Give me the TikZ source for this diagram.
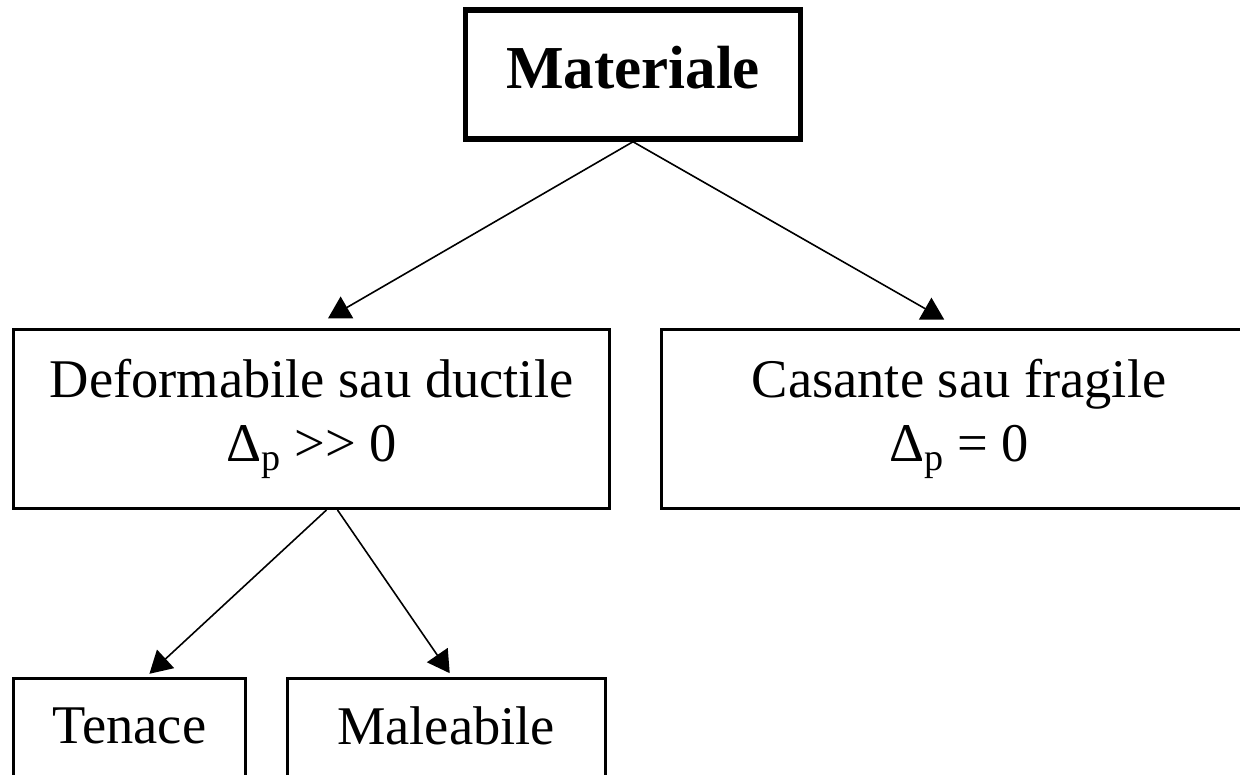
\documentclass[tikz,border=0pt]{standalone}
\usepackage{fontspec}
\setmainfont{Liberation Serif}
\usetikzlibrary{arrows.meta,positioning}

\begin{document}
\begin{tikzpicture}[x=1pt, y=-1pt,
  box/.style={draw, line width=3pt, inner sep=0pt, align=center,
    font=\fontsize{54.5}{64}\selectfont},
  arr/.style={-{Triangle[length=22pt,width=25pt]}, line width=1.6pt}]
\useasboundingbox (0,0) rectangle (1240,775);
\clip (0,0) rectangle (1240,775);

% root and the two classes
\node[box, line width=5.5pt, minimum width=335pt, minimum height=129pt, text depth=14pt,
  font=\fontsize{61}{72}\selectfont\bfseries] (mat) at (633,74.5) {Materiale};
\node[box, minimum width=596pt, minimum height=179pt] (def) at (311.5,419)
  {Deformabile sau ductile\\ Δ\textsubscript{p} >{}> 0};
\node[box, minimum width=596pt, minimum height=179pt] (cas) at (959,419)
  {Casante sau fragile\\ Δ\textsubscript{p} = 0};

% ductile sub-classes
\node[box, minimum width=232pt, minimum height=101pt, text depth=5pt] (ten) at (129.5,728.5) {Tenace};
\node[box, minimum width=318pt, minimum height=101pt, text depth=5pt] (mal) at (446,728.5) {Maleabile};

\draw[arr, shorten >=19pt] (mat.south) -- (def.north);
\draw[arr, shorten >=17pt] (mat.south) -- (cas.north);
\draw[arr, shorten >=4pt] ([xshift=15pt]def.south) -- ([xshift=17pt]ten.north);
\draw[arr, shorten >=4pt] ([xshift=26pt]def.south) -- ([xshift=6pt]mal.north);

\end{tikzpicture}
\end{document}
